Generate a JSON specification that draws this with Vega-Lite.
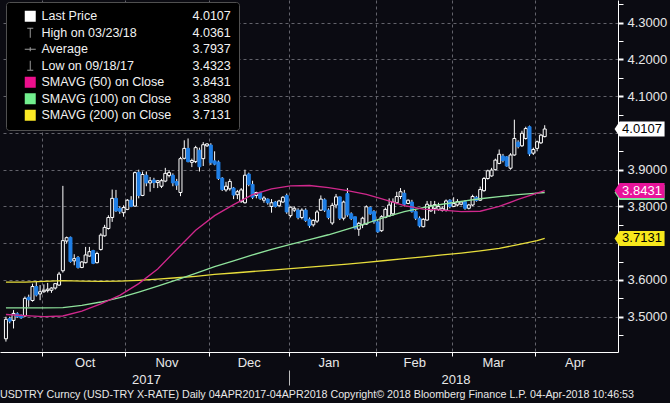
{
"$schema":"https://vega.github.io/schema/vega-lite/v6.json",
"width":618,"height":352,
"autosize":{"type":"none"},
"padding":{"left":0,"top":0,"right":52,"bottom":51},
"background":"#0b0b12",
"title":{"text":"USDTRY Curncy (USD-TRY X-RATE)  Daily 04APR2017-04APR2018 Copyright© 2018 Bloomberg Finance L.P. 04-Apr-2018 10:46:53","orient":"bottom","anchor":"start","offset":4,"fontSize":10.7,"font":"Liberation Sans","fontWeight":"normal","color":"#e8e8e8"},
"config":{"view":{"stroke":null},"axis":{"labelFont":"Liberation Sans"},"legend":{"labelFont":"Liberation Sans"}},
"datasets":{
"px":[
{"d":"2017-09-18","o":3.440,"h":3.500,"l":3.4323,"c":3.493,"m50":3.506,"m100":3.524,"m200":3.594},
{"d":"2017-09-19","o":3.495,"h":3.500,"l":3.482,"c":3.488},
{"d":"2017-09-20","o":3.490,"h":3.518,"l":3.468,"c":3.509},
{"d":"2017-09-21","o":3.508,"h":3.512,"l":3.497,"c":3.500},
{"d":"2017-09-22","o":3.504,"h":3.506,"l":3.494,"c":3.497},
{"d":"2017-09-25","o":3.502,"h":3.555,"l":3.500,"c":3.550,"m50":3.503,"m100":3.524,"m200":3.594},
{"d":"2017-09-26","o":3.553,"h":3.560,"l":3.527,"c":3.546},
{"d":"2017-09-27","o":3.544,"h":3.590,"l":3.541,"c":3.582},
{"d":"2017-09-28","o":3.582,"h":3.595,"l":3.555,"c":3.559},
{"d":"2017-09-29","o":3.562,"h":3.586,"l":3.545,"c":3.568},
{"d":"2017-10-02","o":3.568,"h":3.588,"l":3.565,"c":3.572,"m50":3.500,"m100":3.524,"m200":3.596},
{"d":"2017-10-03","o":3.571,"h":3.592,"l":3.566,"c":3.575},
{"d":"2017-10-04","o":3.572,"h":3.580,"l":3.565,"c":3.578},
{"d":"2017-10-05","o":3.578,"h":3.590,"l":3.574,"c":3.590},
{"d":"2017-10-06","o":3.586,"h":3.622,"l":3.584,"c":3.616},
{"d":"2017-10-09","o":3.625,"h":3.856,"l":3.620,"c":3.707,"m50":3.502,"m100":3.525,"m200":3.598},
{"d":"2017-10-10","o":3.706,"h":3.718,"l":3.699,"c":3.715},
{"d":"2017-10-11","o":3.716,"h":3.718,"l":3.647,"c":3.650},
{"d":"2017-10-12","o":3.652,"h":3.670,"l":3.640,"c":3.658},
{"d":"2017-10-13","o":3.661,"h":3.665,"l":3.631,"c":3.634},
{"d":"2017-10-16","o":3.634,"h":3.651,"l":3.632,"c":3.649,"m50":3.515,"m100":3.531,"m200":3.597},
{"d":"2017-10-17","o":3.647,"h":3.690,"l":3.645,"c":3.668},
{"d":"2017-10-18","o":3.665,"h":3.690,"l":3.663,"c":3.677},
{"d":"2017-10-19","o":3.680,"h":3.682,"l":3.643,"c":3.645},
{"d":"2017-10-20","o":3.647,"h":3.677,"l":3.645,"c":3.672},
{"d":"2017-10-23","o":3.683,"h":3.727,"l":3.680,"c":3.722,"m50":3.535,"m100":3.540,"m200":3.596},
{"d":"2017-10-24","o":3.720,"h":3.750,"l":3.718,"c":3.743},
{"d":"2017-10-25","o":3.740,"h":3.776,"l":3.737,"c":3.770},
{"d":"2017-10-26","o":3.770,"h":3.846,"l":3.758,"c":3.822},
{"d":"2017-10-27","o":3.822,"h":3.845,"l":3.785,"c":3.788},
{"d":"2017-10-30","o":3.795,"h":3.800,"l":3.780,"c":3.787,"m50":3.558,"m100":3.552,"m200":3.597},
{"d":"2017-10-31","o":3.783,"h":3.803,"l":3.772,"c":3.797},
{"d":"2017-11-01","o":3.792,"h":3.820,"l":3.790,"c":3.817},
{"d":"2017-11-02","o":3.817,"h":3.828,"l":3.798,"c":3.800},
{"d":"2017-11-03","o":3.801,"h":3.895,"l":3.799,"c":3.892},
{"d":"2017-11-06","o":3.893,"h":3.900,"l":3.822,"c":3.830,"m50":3.590,"m100":3.567,"m200":3.599},
{"d":"2017-11-07","o":3.830,"h":3.895,"l":3.828,"c":3.887},
{"d":"2017-11-08","o":3.885,"h":3.895,"l":3.855,"c":3.864},
{"d":"2017-11-09","o":3.864,"h":3.880,"l":3.840,"c":3.870},
{"d":"2017-11-10","o":3.872,"h":3.878,"l":3.850,"c":3.865},
{"d":"2017-11-13","o":3.865,"h":3.872,"l":3.850,"c":3.870,"m50":3.630,"m100":3.583,"m200":3.602},
{"d":"2017-11-14","o":3.855,"h":3.875,"l":3.850,"c":3.870},
{"d":"2017-11-15","o":3.869,"h":3.905,"l":3.866,"c":3.890},
{"d":"2017-11-16","o":3.884,"h":3.899,"l":3.879,"c":3.892},
{"d":"2017-11-17","o":3.885,"h":3.890,"l":3.855,"c":3.864},
{"d":"2017-11-20","o":3.868,"h":3.875,"l":3.845,"c":3.858,"m50":3.683,"m100":3.600,"m200":3.606},
{"d":"2017-11-21","o":3.838,"h":3.935,"l":3.828,"c":3.930},
{"d":"2017-11-22","o":3.931,"h":3.980,"l":3.928,"c":3.958},
{"d":"2017-11-23","o":3.958,"h":3.985,"l":3.920,"c":3.922},
{"d":"2017-11-24","o":3.920,"h":3.930,"l":3.907,"c":3.925},
{"d":"2017-11-27","o":3.922,"h":3.965,"l":3.918,"c":3.960,"m50":3.735,"m100":3.618,"m200":3.610},
{"d":"2017-11-28","o":3.953,"h":3.960,"l":3.895,"c":3.908},
{"d":"2017-11-29","o":3.930,"h":3.975,"l":3.910,"c":3.968},
{"d":"2017-11-30","o":3.965,"h":3.972,"l":3.962,"c":3.970},
{"d":"2017-12-01","o":3.967,"h":3.972,"l":3.913,"c":3.919},
{"d":"2017-12-04","o":3.924,"h":3.950,"l":3.912,"c":3.915,"m50":3.775,"m100":3.636,"m200":3.615},
{"d":"2017-12-05","o":3.921,"h":3.925,"l":3.872,"c":3.876},
{"d":"2017-12-06","o":3.877,"h":3.880,"l":3.842,"c":3.846},
{"d":"2017-12-07","o":3.845,"h":3.867,"l":3.840,"c":3.855},
{"d":"2017-12-08","o":3.848,"h":3.875,"l":3.843,"c":3.868},
{"d":"2017-12-11","o":3.850,"h":3.853,"l":3.820,"c":3.831,"m50":3.805,"m100":3.652,"m200":3.619},
{"d":"2017-12-12","o":3.832,"h":3.845,"l":3.820,"c":3.840},
{"d":"2017-12-13","o":3.813,"h":3.850,"l":3.810,"c":3.845},
{"d":"2017-12-14","o":3.810,"h":3.900,"l":3.808,"c":3.885},
{"d":"2017-12-15","o":3.888,"h":3.892,"l":3.855,"c":3.860},
{"d":"2017-12-18","o":3.860,"h":3.870,"l":3.820,"c":3.825,"m50":3.832,"m100":3.668,"m200":3.623},
{"d":"2017-12-19","o":3.830,"h":3.840,"l":3.822,"c":3.838},
{"d":"2017-12-20","o":3.838,"h":3.840,"l":3.818,"c":3.822},
{"d":"2017-12-21","o":3.817,"h":3.828,"l":3.810,"c":3.823},
{"d":"2017-12-22","o":3.820,"h":3.822,"l":3.805,"c":3.810},
{"d":"2017-12-25","o":3.800,"h":3.820,"l":3.783,"c":3.810,"m50":3.848,"m100":3.683,"m200":3.627},
{"d":"2017-12-26","o":3.812,"h":3.815,"l":3.797,"c":3.800},
{"d":"2017-12-27","o":3.802,"h":3.818,"l":3.798,"c":3.815},
{"d":"2017-12-28","o":3.812,"h":3.828,"l":3.810,"c":3.825},
{"d":"2017-12-29","o":3.830,"h":3.835,"l":3.780,"c":3.785},
{"d":"2018-01-01","o":3.775,"h":3.800,"l":3.770,"c":3.798,"m50":3.856,"m100":3.697,"m200":3.631},
{"d":"2018-01-02","o":3.790,"h":3.800,"l":3.785,"c":3.795},
{"d":"2018-01-03","o":3.790,"h":3.795,"l":3.765,"c":3.770},
{"d":"2018-01-04","o":3.770,"h":3.795,"l":3.765,"c":3.790},
{"d":"2018-01-05","o":3.790,"h":3.795,"l":3.758,"c":3.762},
{"d":"2018-01-08","o":3.765,"h":3.770,"l":3.742,"c":3.748,"m50":3.857,"m100":3.710,"m200":3.635},
{"d":"2018-01-09","o":3.750,"h":3.765,"l":3.745,"c":3.762},
{"d":"2018-01-10","o":3.760,"h":3.790,"l":3.755,"c":3.785},
{"d":"2018-01-11","o":3.790,"h":3.830,"l":3.788,"c":3.820},
{"d":"2018-01-12","o":3.818,"h":3.822,"l":3.785,"c":3.790},
{"d":"2018-01-15","o":3.790,"h":3.795,"l":3.765,"c":3.770,"m50":3.851,"m100":3.723,"m200":3.639},
{"d":"2018-01-16","o":3.755,"h":3.810,"l":3.750,"c":3.803},
{"d":"2018-01-17","o":3.804,"h":3.834,"l":3.795,"c":3.826},
{"d":"2018-01-18","o":3.826,"h":3.827,"l":3.763,"c":3.768},
{"d":"2018-01-19","o":3.768,"h":3.816,"l":3.762,"c":3.812},
{"d":"2018-01-22","o":3.835,"h":3.850,"l":3.772,"c":3.777,"m50":3.843,"m100":3.738,"m200":3.643},
{"d":"2018-01-23","o":3.780,"h":3.784,"l":3.763,"c":3.767},
{"d":"2018-01-24","o":3.772,"h":3.772,"l":3.737,"c":3.741},
{"d":"2018-01-25","o":3.738,"h":3.758,"l":3.720,"c":3.754},
{"d":"2018-01-26","o":3.750,"h":3.772,"l":3.741,"c":3.768},
{"d":"2018-01-29","o":3.752,"h":3.803,"l":3.750,"c":3.799,"m50":3.833,"m100":3.754,"m200":3.648},
{"d":"2018-01-30","o":3.797,"h":3.800,"l":3.777,"c":3.780},
{"d":"2018-01-31","o":3.786,"h":3.790,"l":3.753,"c":3.758},
{"d":"2018-02-01","o":3.758,"h":3.763,"l":3.728,"c":3.731},
{"d":"2018-02-02","o":3.734,"h":3.776,"l":3.731,"c":3.772},
{"d":"2018-02-05","o":3.770,"h":3.797,"l":3.768,"c":3.792,"m50":3.818,"m100":3.771,"m200":3.653},
{"d":"2018-02-06","o":3.774,"h":3.822,"l":3.772,"c":3.804},
{"d":"2018-02-07","o":3.780,"h":3.822,"l":3.774,"c":3.812},
{"d":"2018-02-08","o":3.810,"h":3.840,"l":3.806,"c":3.827},
{"d":"2018-02-09","o":3.827,"h":3.850,"l":3.820,"c":3.840},
{"d":"2018-02-12","o":3.836,"h":3.845,"l":3.800,"c":3.806,"m50":3.802,"m100":3.786,"m200":3.658},
{"d":"2018-02-13","o":3.808,"h":3.819,"l":3.806,"c":3.817},
{"d":"2018-02-14","o":3.812,"h":3.818,"l":3.783,"c":3.786},
{"d":"2018-02-15","o":3.786,"h":3.790,"l":3.763,"c":3.768},
{"d":"2018-02-16","o":3.768,"h":3.773,"l":3.743,"c":3.747},
{"d":"2018-02-19","o":3.745,"h":3.768,"l":3.743,"c":3.765,"m50":3.793,"m100":3.797,"m200":3.663},
{"d":"2018-02-20","o":3.763,"h":3.815,"l":3.761,"c":3.806},
{"d":"2018-02-21","o":3.788,"h":3.815,"l":3.785,"c":3.803},
{"d":"2018-02-22","o":3.795,"h":3.815,"l":3.780,"c":3.805},
{"d":"2018-02-23","o":3.792,"h":3.810,"l":3.788,"c":3.800},
{"d":"2018-02-26","o":3.789,"h":3.800,"l":3.786,"c":3.795,"m50":3.790,"m100":3.806,"m200":3.668},
{"d":"2018-02-27","o":3.790,"h":3.819,"l":3.786,"c":3.815},
{"d":"2018-02-28","o":3.817,"h":3.820,"l":3.795,"c":3.800},
{"d":"2018-03-01","o":3.800,"h":3.825,"l":3.798,"c":3.808},
{"d":"2018-03-02","o":3.804,"h":3.820,"l":3.800,"c":3.813},
{"d":"2018-03-05","o":3.806,"h":3.815,"l":3.803,"c":3.812,"m50":3.786,"m100":3.814,"m200":3.673},
{"d":"2018-03-06","o":3.813,"h":3.817,"l":3.791,"c":3.795},
{"d":"2018-03-07","o":3.795,"h":3.807,"l":3.792,"c":3.804},
{"d":"2018-03-08","o":3.804,"h":3.832,"l":3.801,"c":3.827},
{"d":"2018-03-09","o":3.825,"h":3.829,"l":3.813,"c":3.816},
{"d":"2018-03-12","o":3.817,"h":3.854,"l":3.815,"c":3.846,"m50":3.787,"m100":3.821,"m200":3.679},
{"d":"2018-03-13","o":3.843,"h":3.880,"l":3.840,"c":3.876},
{"d":"2018-03-14","o":3.876,"h":3.900,"l":3.873,"c":3.897},
{"d":"2018-03-15","o":3.883,"h":3.905,"l":3.881,"c":3.899},
{"d":"2018-03-16","o":3.900,"h":3.930,"l":3.898,"c":3.926},
{"d":"2018-03-19","o":3.917,"h":3.955,"l":3.915,"c":3.942,"m50":3.800,"m100":3.827,"m200":3.686},
{"d":"2018-03-20","o":3.937,"h":3.943,"l":3.920,"c":3.925},
{"d":"2018-03-21","o":3.935,"h":3.937,"l":3.908,"c":3.910},
{"d":"2018-03-22","o":3.904,"h":3.945,"l":3.900,"c":3.940},
{"d":"2018-03-23","o":3.940,"h":4.0361,"l":3.938,"c":3.985},
{"d":"2018-03-26","o":3.975,"h":3.980,"l":3.958,"c":3.963,"m50":3.819,"m100":3.832,"m200":3.696},
{"d":"2018-03-27","o":3.965,"h":4.006,"l":3.962,"c":3.999},
{"d":"2018-03-28","o":3.985,"h":4.017,"l":3.982,"c":4.012},
{"d":"2018-03-29","o":4.017,"h":4.020,"l":3.937,"c":3.943},
{"d":"2018-03-30","o":3.945,"h":3.960,"l":3.940,"c":3.955},
{"d":"2018-04-02","o":3.958,"h":3.979,"l":3.950,"c":3.976,"m50":3.836,"m100":3.836,"m200":3.707},
{"d":"2018-04-03","o":3.973,"h":3.997,"l":3.970,"c":3.994},
{"d":"2018-04-04","o":3.990,"h":4.021,"l":3.988,"c":4.0107,"m50":3.8431,"m100":3.838,"m200":3.7131}
],
"badges":[
{"s":"SMAVG (100) on Close","v":3.838},
{"s":"SMAVG (200) on Close","v":3.7131},
{"s":"SMAVG (50) on Close","v":3.8431},
{"s":"Last Price","v":4.0107}
],
"leg":[
{"s":"Last Price","v":"4.0107"},
{"s":"High on 03/23/18","v":"4.0361"},
{"s":"Average","v":"3.7937"},
{"s":"Low on 09/18/17","v":"3.4323"},
{"s":"SMAVG (50) on Close","v":"3.8431"},
{"s":"SMAVG (100) on Close","v":"3.8380"},
{"s":"SMAVG (200) on Close","v":"3.7131"}
]
},
"layer":[
{
"data":{"name":"px"},
"transform":[{"window":[{"op":"row_number","as":"i"}],"sort":[{"field":"d"}]}],
"mark":{"type":"rule","color":"#ffffff","strokeWidth":1},
"encoding":{
"x":{"field":"i","type":"quantitative","scale":{"domain":[0.75,161],"nice":false,"zero":false},
"axis":{"orient":"bottom","values":[10.5,32.5,54.5,75.5,98.5,118.5,140.5],"labels":false,"ticks":true,"tickSize":4,"tickColor":"#ffffff","domain":true,"domainColor":"#ffffff","grid":true,"gridColor":"#63636b","gridDash":[3,3],"title":null}},
"y":{"field":"l","type":"quantitative","scale":{"domain":[3.404,4.3617],"nice":false,"zero":false},
"axis":{"orient":"right","values":[3.45,3.5,3.55,3.6,3.65,3.7,3.75,3.8,3.85,3.9,3.95,4.0,4.05,4.1,4.15,4.2,4.25,4.3,4.35],
"labelExpr":"(abs(datum.value*10 - round(datum.value*10)) < 0.01 && abs(datum.value - 4.0) > 0.01 && abs(datum.value - 3.7) > 0.01) ? format(datum.value, '.4f') : ''",
"title":null,"domain":true,"domainColor":"#ffffff","ticks":true,"tickColor":"#ffffff","tickSize":5,
"tickWidth":{"condition":{"test":"abs(datum.value*10 - round(datum.value*10)) < 0.01","value":2},"value":1},
"grid":true,"gridColor":"#63636b","gridDash":[3,3],
"gridOpacity":{"condition":{"test":"abs(datum.value*10 - round(datum.value*10)) < 0.01","value":1},"value":0},
"labelColor":"#e8e8e8","labelFontSize":13,"labelPadding":4,"labelFlush":false,"labelOverlap":false}},
"y2":{"field":"h"}
}
},
{
"data":{"name":"px"},
"transform":[{"window":[{"op":"row_number","as":"i"}],"sort":[{"field":"d"}]}],
"mark":{"type":"bar","width":3,"strokeWidth":1},
"encoding":{
"x":{"field":"i","type":"quantitative",
"axis":{"orient":"bottom","values":[21.75,43.3,65,86,108.6,129.4,150.9],
"labelExpr":"datum.value < 30 ? 'Oct' : datum.value < 50 ? 'Nov' : datum.value < 70 ? 'Dec' : datum.value < 95 ? 'Jan' : datum.value < 115 ? 'Feb' : datum.value < 140 ? 'Mar' : 'Apr'",
"ticks":false,"domain":false,"grid":false,"labelPadding":4,"labelFontSize":13,"labelColor":"#e8e8e8","title":null,"labelFlush":false,"labelOverlap":false}},
"y":{"field":"o","type":"quantitative","axis":null},
"y2":{"field":"c"},
"fill":{"condition":{"test":"datum.c >= datum.o","value":"#0b0b12"},"value":"#1f7fe6"},
"stroke":{"condition":{"test":"datum.c >= datum.o","value":"#ffffff"},"value":"#1f7fe6"}
}
},
{
"data":{"name":"px"},
"transform":[{"window":[{"op":"row_number","as":"i"}],"sort":[{"field":"d"}]},{"fold":["m200","m100","m50"],"as":["k","val"]},{"filter":"isValid(datum.val)"}],
"mark":{"type":"line","strokeWidth":1.3},
"encoding":{
"x":{"field":"i","type":"quantitative",
"axis":{"orient":"bottom","values":[37.9,75.5,119.5],"labelExpr":"datum.value < 50 ? '2017' : datum.value < 100 ? '' : '2018'",
"offset":18,"tickSize":15,"tickColor":"#bdbdbd","tickOpacity":{"condition":{"test":"datum.value == 75.5","value":1},"value":0},
"labelPadding":-12,"domain":false,"grid":false,"title":null,"labelFontSize":13,"labelColor":"#e8e8e8","labelFlush":false,"labelOverlap":false}},
"y":{"field":"val","type":"quantitative","axis":null},
"stroke":{"field":"k","type":"nominal","scale":{"domain":["m200","m100","m50"],"range":["#e8de3c","#8fe39c","#d0288c"]},"legend":null}
}
},
{
"data":{"name":"badges"},
"mark":{"type":"point","filled":true,"opacity":1,"shape":"M-1,0L-0.8,-0.3L1,-0.3L1,0.3L-0.8,0.3Z","size":2500,"strokeWidth":0},
"encoding":{
"x":{"datum":168,"type":"quantitative","axis":null},
"y":{"field":"v","type":"quantitative","axis":null},
"fill":{"field":"s","type":"nominal","scale":{"domain":["Last Price","SMAVG (50) on Close","SMAVG (100) on Close","SMAVG (200) on Close"],"range":["#ffffff","#e8139a","#7ee89a","#f7e81c"]},"legend":null}
}
},
{
"data":{"name":"badges"},
"transform":[{"filter":"datum.s != 'SMAVG (100) on Close'"}],
"mark":{"type":"text","align":"left","baseline":"middle","fontSize":13,"font":"Liberation Sans"},
"encoding":{
"x":{"datum":163.4,"type":"quantitative","axis":null},
"y":{"field":"v","type":"quantitative","axis":null},
"text":{"field":"v","type":"quantitative","format":".4f"},
"color":{"condition":{"test":"datum.s == 'SMAVG (50) on Close'","value":"#ffffff"},"value":"#000000"}
}
},
{
"data":{"name":"leg"},
"mark":{"type":"point","filled":true,"opacity":1},
"encoding":{
"x":{"datum":20,"type":"quantitative","axis":null},
"y":{"datum":4.2,"type":"quantitative","axis":null},
"size":{"value":4},
"color":{"field":"s","type":"nominal","scale":{"domain":["Last Price","High on 03/23/18","Average","Low on 09/18/17","SMAVG (50) on Close","SMAVG (100) on Close","SMAVG (200) on Close"],"range":["#ffffff","#9a9a9a","#9a9a9a","#9a9a9a","#ec0f8c","#72ef8e","#fbe925"]},
"legend":{"title":null,"orient":"none","legendX":24,"legendY":10,"padding":0,"labelFontSize":12.5,"labelColor":"#f2f2f2","symbolSize":121,"symbolStrokeWidth":0,"labelOffset":5,"rowPadding":3.5,"zindex":2}},
"shape":{"field":"s","type":"nominal","scale":{"domain":["Last Price","High on 03/23/18","Average","Low on 09/18/17","SMAVG (50) on Close","SMAVG (100) on Close","SMAVG (200) on Close"],"range":["square","M-0.55,-0.9L0.55,-0.9L0.55,-0.72L0.09,-0.72L0.09,0.9L-0.09,0.9L-0.09,-0.72L-0.55,-0.72Z","M-1,-0.09L1,-0.09L1,0.09L-1,0.09Z M-0.1,-0.35L0.1,-0.35L0.1,0.35L-0.1,0.35Z","M-0.55,0.9L0.55,0.9L0.55,0.72L0.09,0.72L0.09,-0.9L-0.09,-0.9L-0.09,0.72L-0.55,0.72Z","square","square","square"]},
"legend":{"title":null,"orient":"none","legendX":24,"legendY":10,"padding":0,"labelFontSize":12.5,"labelColor":"#f2f2f2","symbolSize":121,"symbolStrokeWidth":0,"labelOffset":5,"rowPadding":3.5,"zindex":2}},
"opacity":{"field":"v","type":"ordinal","scale":{"domain":["4.0107","4.0361","3.7937","3.4323","3.8431","3.8380","3.7131"],"range":[1,1,1,1,1,1,1]},
"legend":{"title":null,"orient":"none","legendX":6,"legendY":2,"padding":8,"fillColor":"#000000","strokeColor":"#505050","cornerRadius":3,"symbolSize":0,"symbolOpacity":0,"labelOffset":166,"labelFontSize":12.5,"labelColor":"#f2f2f2","rowPadding":3.5,"zindex":1}}
}
}
],
"resolve":{"axis":{"x":"independent","y":"independent"}}
}
